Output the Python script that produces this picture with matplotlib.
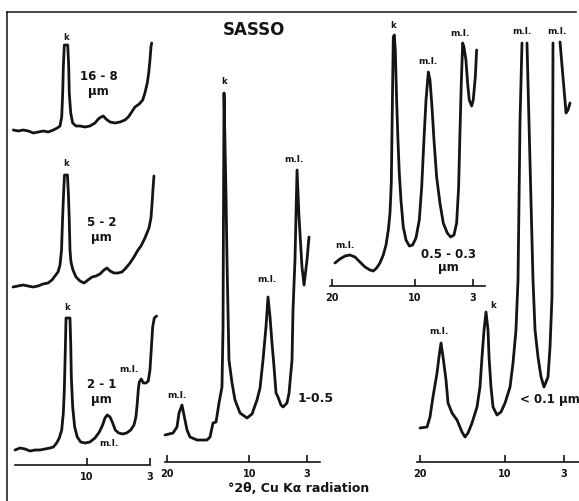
import numpy as np
import matplotlib
matplotlib.use("Agg")
import matplotlib.pyplot as plt
from matplotlib.lines import Line2D

nan = np.nan

# ---------------- data (2theta in degrees, intensity in arbitrary units) ----------------
# left panel: three stacked patterns sharing one 2theta axis
p16_8_tt = [18.19, 17.63, 17.08, 16.52, 15.97, 15.41, 14.86, 14.30, 13.74, 13.30,
            13.0, 12.81, 12.70, 12.63, 12.52, 12.14, 12.03, 11.97, 11.81, 11.59,
            11.22, 10.78, 10.22, 9.67, 9.11, 8.74, 8.44, 8.19, 7.89, 7.44,
            6.89, 6.33, 5.78, 5.41, 5.03, 4.67, 4.19, 3.81, 3.56, 3.30,
            3.14, 3.0, 2.89, 2.81]
p16_8_I = [335, 334, 335, 334, 332, 333, 334, 333, 335, 337,
           339, 348, 372, 398, 420, 420, 398, 372, 352, 342,
           339, 339, 338, 339, 342, 346, 348, 349, 346, 343,
           342, 343, 345, 348, 353, 358, 361, 365, 372, 382,
           392, 405, 418, 422]

p5_2_tt = [18.22, 17.67, 17.11, 16.56, 16.0, 15.44, 14.89, 14.33, 13.89, 13.56,
           13.22, 13.0, 12.83, 12.72, 12.61, 12.5, 12.17, 12.06, 11.97, 11.89,
           11.78, 11.56, 11.22, 10.78, 10.33, 9.89, 9.44, 9.0, 8.56, 8.11,
           7.78, 7.44, 7.0, 6.56, 6.11, 5.67, 5.22, 4.78, 4.33, 4.0,
           3.56, 3.11, 2.89, 2.78, 2.67, 2.56]
p5_2_I = [178, 179, 180, 179, 178, 179, 181, 182, 185, 189,
          193, 200, 215, 245, 270, 290, 290, 270, 245, 215,
          203, 195, 188, 184, 182, 185, 188, 189, 191, 195,
          197, 194, 192, 192, 193, 197, 202, 208, 215, 219,
          227, 237, 247, 260, 275, 289]

p2_1_tt = [18.0, 17.44, 16.89, 16.33, 15.78, 15.22, 14.67, 14.11, 13.74, 13.37,
           13.08, 12.81, 12.63, 12.52, 12.41, 12.33, 11.89, 11.81, 11.74, 11.59,
           11.37, 11.08, 10.7, 10.22, 9.67, 9.11, 8.63, 8.26, 8.0, 7.74,
           7.44, 7.14, 6.86, 6.48, 6.03, 5.59, 5.14, 4.78, 4.56, 4.41,
           4.30, 4.19, 3.97, 3.74, 3.44, 3.19, 3.0, 2.86, 2.70, 2.52,
           2.26]
p2_1_I = [15, 17, 16, 14, 15, 15, 16, 17, 18, 22,
          27, 35, 52, 75, 115, 147, 147, 122, 88, 58,
          38, 28, 23, 22, 23, 27, 33, 40, 47, 50,
          48, 42, 35, 32, 31, 32, 35, 40, 48, 62,
          75, 83, 86, 82, 82, 84, 95, 115, 138, 147,
          149]

# 1-0.5 um
p1_05_tt = [20.24, 19.27, 18.79, 18.54, 18.18, 17.94, 17.57, 17.21, 16.36, 15.15,
            14.78, 14.42, 14.05, 13.69, 13.33, 13.20, 13.17, 13.08, 12.83, 12.72,
            12.60, 12.48, 12.11, 11.75, 11.14, 10.29, 9.68, 9.08, 8.71, 8.35,
            7.99, 7.74, 7.50, 7.26, 7.01, 6.77, 6.53, 6.17, 5.92, 5.44,
            5.19, 4.83, 4.71, 4.47, 4.22, 3.98, 3.62, 3.37, 3.01, 2.77]
p1_05_I = [27, 29, 35, 49, 57, 47, 32, 25, 22, 22,
           25, 39, 40, 59, 75, 135, 202, 369, 262, 202,
           152, 102, 79, 62, 49, 44, 48, 62, 74, 102,
           135, 165, 145, 119, 95, 69, 65, 57, 55, 59,
           69, 102, 152, 202, 292, 245, 195, 177, 202, 225]

# 0.5-0.3 um
p05_03_tt = [19.64, 19.04, 18.43, 17.83, 17.23, 16.63, 16.02, 15.42, 15.02, 14.62,
             14.22, 13.82, 13.49, 13.21, 13.01, 12.85, 12.77, 12.69, 12.61, 12.49,
             12.37, 12.21, 12.05, 11.89, 11.69, 11.41, 11.08, 10.68, 10.28, 9.88,
             9.48, 9.19, 8.92, 8.67, 8.39, 8.19, 7.95, 7.71, 7.39, 6.99,
             6.59, 6.11, 5.70, 5.30, 4.98, 4.74, 4.58, 4.42, 4.25, 4.10,
             3.86, 3.66, 3.46, 3.17, 2.98, 2.73, 2.57]
p05_03_I = [23, 27, 30, 31, 29, 24, 19, 16, 15, 18,
            23, 31, 41, 56, 73, 103, 153, 203, 249, 251,
            236, 186, 146, 113, 86, 59, 46, 40, 41, 48,
            66, 99, 146, 186, 214, 206, 179, 146, 109, 83,
            63, 53, 49, 51, 63, 99, 153, 203, 243, 239,
            226, 203, 186, 180, 186, 209, 236]

# < 0.1 um (tops of the two strong peaks run off the chart)
p01_tt = [20.0, 19.17, 18.82, 18.47, 17.99, 17.76, 17.52, 17.28, 16.93, 16.69,
          16.22, 15.63, 15.04, 14.69, 14.33, 13.86, 13.27, 12.92, 12.68, 12.44,
          12.21, 11.97, 11.85, 11.62, 11.38, 10.91, 10.44, 9.96, 9.37, 9.02,
          8.67, 8.43, 8.31, 8.19, 7.96, 7.7, 7.37, 6.9, 6.66, 6.42,
          6.07, 5.71, 5.36, 4.89, 4.65, 4.42, 4.35, 4.30, 3.9, 3.47,
          2.76, 2.53, 2.29]
p01_I = [34, 35, 45, 65, 89, 105, 119, 105, 82, 59,
         49, 42, 30, 25, 29, 39, 55, 75, 105, 132,
         150, 132, 105, 75, 55, 47, 50, 59, 75, 99,
         132, 182, 262, 342, 419, nan, 419, 262, 182, 132,
         105, 85, 75, 85, 115, 165, 262, 419, nan, 420,
         349, 352, 359]

ticks_left = [10, 3]
ticks_full = [20, 10, 3]
tick_labels_left = ["10", "3"]
tick_labels_full = ["20", "10", "3"]

title = "SASSO"
xlabel = "°2θ, Cu Kα radiation"

# ---------------- figure ----------------
W, H = 579, 501
fig = plt.figure(figsize=(W / 100, H / 100), dpi=100)
fig.patch.set_facecolor("white")
INK = "#141414"
FONT = "DejaVu Sans"
LW = 2.0


def make_ax(px_left, px_right, px_top, px_axis, xlim, ymax, bounds, ticks, labels):
    ax = fig.add_axes([px_left / W, 1 - px_axis / H, (px_right - px_left) / W, (px_axis - px_top) / H])
    ax.set_facecolor("none")
    ax.set_xlim(*xlim)
    ax.set_ylim(0, ymax)
    for s in ("top", "left", "right"):
        ax.spines[s].set_visible(False)
    ax.spines["bottom"].set_bounds(*bounds)
    ax.spines["bottom"].set_linewidth(1.2)
    ax.spines["bottom"].set_color(INK)
    ax.set_yticks([])
    ax.set_xticks(ticks)
    ax.set_xticklabels(labels, fontsize=7, fontweight="bold", family=FONT, color=INK)
    ax.tick_params(axis="x", direction="in", length=5, width=1.2, pad=5, color=INK)
    return ax


def curve(ax, tt, I):
    ax.plot(tt, I, color=INK, lw=LW, solid_joinstyle="round", solid_capstyle="round", clip_on=False)


def lab(ax, x, y, s, size=6.5, ha="center"):
    ax.text(x, y, s, fontsize=size, fontweight="bold", family=FONT, color=INK, ha=ha, va="center")


# left stacked panel
axA = make_ax(7, 165, 12, 465, (18.89, 1.33), 453, (3.0, 18.0), ticks_left, tick_labels_left)
curve(axA, p16_8_tt, p16_8_I)
curve(axA, p5_2_tt, p5_2_I)
curve(axA, p2_1_tt, p2_1_I)
lab(axA, 12.35, 428, "k", 6)
lab(axA, 8.7, 388, "16 - 8", 8.5)
lab(axA, 8.7, 373, "µm", 8.5)
lab(axA, 12.3, 302, "k", 6)
lab(axA, 8.4, 243, "5 - 2", 8.5)
lab(axA, 8.4, 227, "µm", 8.5)
lab(axA, 12.2, 158, "k", 6)
lab(axA, 8.4, 80, "2 - 1", 8.5)
lab(axA, 8.4, 65, "µm", 8.5)
lab(axA, 5.3, 96, "m.l.")
lab(axA, 7.6, 21, "m.l.")

# 1-0.5 panel
axB = make_ax(160, 330, 12, 462, (20.85, 0.22), 450, (1.43, 20.24), ticks_full, tick_labels_full)
curve(axB, p1_05_tt, p1_05_I)
lab(axB, 13.1, 380, "k", 6)
lab(axB, 4.6, 302, "m.l.")
lab(axB, 7.85, 182, "m.l.")
lab(axB, 18.8, 66, "m.l.")
lab(axB, 4.1, 64, "1-0.5", 9, ha="left")

# 0.5-0.3 panel
axC = make_ax(325, 490, 12, 286, (20.84, 0.96), 274, (1.57, 20.24), ticks_full, tick_labels_full)
curve(axC, p05_03_tt, p05_03_I)
lab(axC, 12.65, 261, "k", 6)
lab(axC, 8.45, 225, "m.l.")
lab(axC, 4.6, 253, "m.l.")
lab(axC, 18.4, 40, "m.l.")
lab(axC, 6.0, 32, "0.5 - 0.3", 8.5)
lab(axC, 6.0, 19, "µm", 8.5)

# <0.1 panel
axD = make_ax(410, 579, 12, 462, (21.18, 1.23), 450, (1.23, 20.35), ticks_full, tick_labels_full)
curve(axD, p01_tt, p01_I)
lab(axD, 7.95, 431, "m.l.")
lab(axD, 3.85, 431, "m.l.")
lab(axD, 11.35, 156, "k", 6)
lab(axD, 17.8, 131, "m.l.")
lab(axD, 8.2, 63, "< 0.1 µm", 8.5, ha="left")

# frame lines (figure border)
fig.add_artist(Line2D([7 / W, 7 / W], [1 - 12 / H, 0], color=INK, lw=1.1))
fig.add_artist(Line2D([7 / W, 576 / W], [1 - 12 / H, 1 - 12 / H], color=INK, lw=1.1))

fig.text(254 / W, 1 - 30 / H, title, fontsize=12, fontweight="bold", family=FONT, color=INK,
         ha="center", va="center")
fig.text(299 / W, 1 - 488 / H, xlabel, fontsize=9, fontweight="bold", family=FONT, color=INK,
         ha="center", va="center")

fig.savefig("out.png", dpi=100, facecolor="white")
